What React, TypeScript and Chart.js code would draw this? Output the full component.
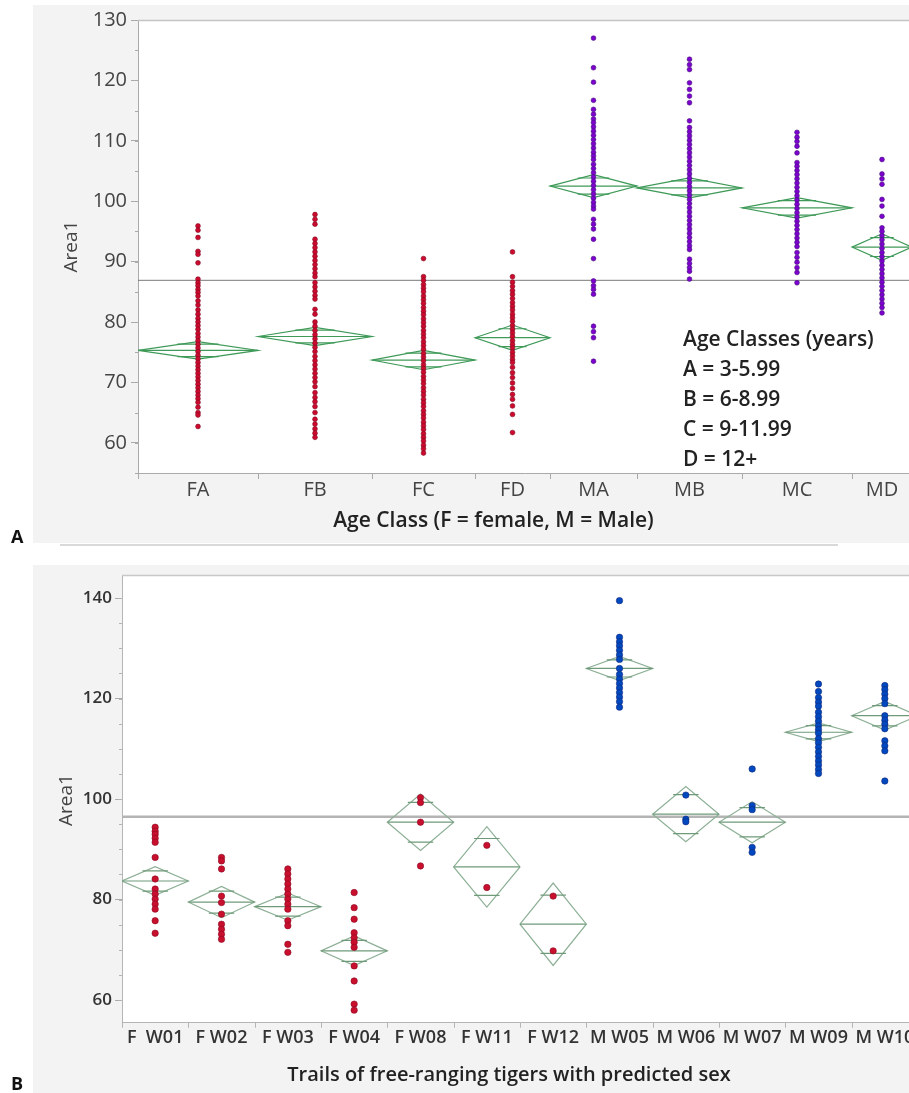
import { useEffect, useRef } from 'react';
import { Chart, registerables } from 'chart.js';

Chart.register(...registerables);

// ---------------- Panel A data ----------------
const ageClasses = ['FA', 'FB', 'FC', 'FD', 'MA', 'MB', 'MC', 'MD'];
const ageClassSex = ['F', 'F', 'F', 'F', 'M', 'M', 'M', 'M'];
// relative group sizes (JMP proportional x axis)
const ageClassN = [120, 114, 103, 75, 87, 105, 110, 60];
const ageMeans = [75.3, 77.6, 73.7, 77.4, 102.5, 102.2, 98.9, 92.4];
const ageCI = [1.45, 1.5, 1.6, 2.1, 1.9, 1.65, 1.7, 2.2];
const ageGrandMean = 86.9;
const ageYTicks = [60, 70, 80, 90, 100, 110, 120, 130];
const ageLegend = ['Age Classes (years)', 'A = 3-5.99', 'B = 6-8.99', 'C = 9-11.99', 'D = 12+'];

const areaFA = [95.9, 95.2, 94.0, 91.7, 91.2, 89.8, 87.1, 86.5, 86.0, 85.4, 84.9, 84.3, 83.5, 82.8, 82.0, 81.3, 80.6, 80.0, 79.4, 78.8, 78.1, 77.5, 76.9, 76.3, 75.7, 75.1, 74.5, 73.9, 73.3, 72.7, 72.1, 71.5, 70.9, 70.3, 69.7, 69.1, 68.5, 67.9, 67.3, 66.7, 65.9, 65.0, 64.6, 62.7];
const areaFB = [97.8, 97.0, 96.2, 93.7, 93.0, 92.3, 91.6, 90.9, 90.2, 89.5, 88.8, 88.1, 87.5, 86.5, 85.8, 85.1, 84.4, 83.8, 82.1, 81.3, 80.0, 79.3, 78.6, 77.9, 77.2, 76.5, 75.8, 75.1, 74.3, 73.6, 72.9, 72.2, 71.5, 70.8, 70.1, 69.3, 68.3, 67.5, 66.8, 66.0, 65.0, 63.9, 63.1, 62.3, 61.6, 60.9];
const areaFC = [90.5, 87.5, 86.9, 86.2, 85.6, 85.0, 84.3, 83.7, 83.1, 82.4, 81.8, 81.2, 80.5, 79.9, 79.3, 78.6, 78.0, 77.4, 76.7, 76.1, 75.5, 74.8, 74.2, 73.6, 72.9, 72.3, 71.7, 71.0, 70.4, 69.8, 69.1, 68.5, 67.9, 67.2, 66.6, 66.0, 65.3, 64.7, 64.1, 63.4, 62.8, 62.2, 61.5, 60.9, 60.3, 59.6, 59.0, 58.3];
const areaFD = [91.6, 87.5, 86.6, 85.9, 85.2, 84.6, 83.9, 83.2, 82.6, 82.0, 81.3, 80.7, 80.1, 79.4, 78.8, 78.2, 77.6, 76.9, 76.3, 75.7, 75.0, 74.4, 73.8, 73.3, 72.5, 71.6, 70.8, 69.9, 69.0, 68.0, 67.2, 66.1, 64.7, 61.7];
const areaMA = [127.0, 122.1, 119.7, 116.7, 115.2, 114.4, 113.6, 113.0, 112.3, 111.6, 110.9, 110.2, 109.5, 108.8, 108.1, 107.5, 106.9, 106.1, 105.4, 104.7, 104.0, 103.3, 102.6, 101.9, 101.2, 100.5, 99.8, 99.2, 98.7, 97.0, 96.2, 95.4, 93.7, 90.5, 86.8, 86.0, 85.4, 84.6, 79.3, 78.4, 77.4, 73.5];
const areaMB = [123.5, 122.6, 121.8, 119.6, 118.5, 117.4, 116.3, 113.3, 112.2, 111.5, 110.8, 110.1, 109.4, 108.7, 108.0, 107.3, 106.6, 105.9, 105.2, 104.5, 103.8, 103.1, 102.4, 101.7, 101.0, 100.3, 99.6, 98.9, 98.2, 97.5, 96.8, 96.1, 95.4, 94.7, 94.0, 93.3, 92.6, 92.0, 90.4, 89.7, 89.0, 88.4, 87.1];
const areaMC = [111.4, 110.6, 109.9, 109.1, 108.0, 106.4, 105.8, 105.1, 104.4, 103.7, 103.0, 102.3, 101.6, 100.9, 100.2, 99.5, 98.8, 98.1, 97.4, 96.7, 96.0, 95.3, 94.6, 93.9, 93.2, 92.5, 91.5, 90.7, 89.9, 89.0, 88.2, 86.5];
const areaMD = [106.9, 104.5, 103.7, 102.8, 100.3, 99.2, 97.5, 95.6, 95.0, 94.3, 93.6, 92.9, 92.2, 91.5, 90.8, 90.1, 89.4, 88.7, 88.0, 87.3, 86.6, 85.9, 85.2, 84.5, 83.8, 83.1, 82.4, 81.5];
const ageValues = [areaFA, areaFB, areaFC, areaFD, areaMA, areaMB, areaMC, areaMD];

// ---------------- Panel B data ----------------
const trails = ['F  W01', 'F W02', 'F W03', 'F W04', 'F W08', 'F W11', 'F W12', 'M W05', 'M W06', 'M W07', 'M W09', 'M W10'];
const trailSex = ['F', 'F', 'F', 'F', 'F', 'F', 'F', 'M', 'M', 'M', 'M', 'M'];
const trailMeans = [83.7, 79.5, 78.6, 69.8, 95.4, 86.5, 75.1, 126.0, 97.0, 95.4, 113.3, 116.6];
const trailCI = [2.85, 3.1, 2.7, 2.95, 5.6, 8.0, 8.2, 2.4, 5.5, 4.1, 1.85, 2.85];
const trailGrandMean = 96.5;
const trailYTicks = [60, 80, 100, 120, 140];

const trailW01 = [94.4, 93.6, 93.0, 92.2, 91.4, 88.4, 84.1, 82.1, 81.1, 80.1, 79.1, 78.1, 75.8, 73.3];
const trailW02 = [88.4, 87.7, 86.1, 80.7, 79.4, 77.1, 75.1, 74.1, 73.1, 72.1];
const trailW03 = [86.1, 85.1, 84.1, 83.1, 82.1, 81.1, 80.1, 79.1, 78.1, 75.8, 74.8, 71.1, 69.5];
const trailW04 = [81.4, 78.4, 76.1, 73.4, 72.4, 71.5, 70.5, 66.8, 63.8, 59.2, 58.0];
const trailW08 = [100.3, 99.3, 95.4, 86.7];
const trailW11 = [90.8, 82.4];
const trailW12 = [80.7, 69.8];
const trailW05 = [139.5, 132.2, 131.3, 130.5, 129.6, 128.7, 127.8, 126.0, 124.8, 123.9, 123.0, 122.1, 121.2, 120.3, 119.4, 118.3];
const trailW06 = [100.8, 96.0, 95.5];
const trailW07 = [106.0, 98.7, 97.9, 90.4, 89.4];
const trailW09 = [122.9, 121.4, 120.2, 119.3, 118.5, 117.3, 116.4, 115.5, 114.6, 113.8, 113.1, 112.0, 111.2, 110.3, 109.4, 108.5, 107.6, 106.8, 105.9, 105.1];
const trailW10 = [122.6, 121.8, 120.9, 120.0, 119.0, 116.6, 115.7, 114.9, 114.0, 111.6, 110.6, 109.6, 103.6];
const trailValues = [trailW01, trailW02, trailW03, trailW04, trailW08, trailW11, trailW12, trailW05, trailW06, trailW07, trailW09, trailW10];

const FONT = "'Open Sans', 'Noto Sans', sans-serif";

type TextItem = { t: string; x: number; y: number; font: string; color: string; align?: CanvasTextAlign; rot?: number };

type PanelCfg = {
  lefts: number[];
  rights: number[];
  centers: number[];
  means: number[];
  ci: number[];
  grandMean: number;
  grandColor: string;
  grandWidth: number;
  diamondColor: string;
  innerColor: string;
  minorStep: number;
  minorLen: number;
  boundaryLen: number;
  frameColor: string;
  axisColor: string;
  texts: TextItem[];
};

function panelPlugin(cfg: PanelCfg) {
  return {
    id: 'jmpPanel',
    beforeDraw(chart: any) {
      const { ctx, chartArea: a } = chart;
      ctx.save();
      ctx.fillStyle = '#ffffff';
      ctx.fillRect(a.left, a.top, a.right - a.left, a.bottom - a.top);
      ctx.restore();
    },
    beforeDatasetsDraw(chart: any) {
      const { ctx, chartArea: a, scales } = chart;
      const x = scales.x;
      const y = scales.y;
      ctx.save();
      ctx.beginPath();
      ctx.rect(a.left, a.top, a.right - a.left, a.bottom - a.top);
      ctx.clip();
      // grand mean
      const gy = y.getPixelForValue(cfg.grandMean);
      ctx.strokeStyle = cfg.grandColor;
      ctx.lineWidth = cfg.grandWidth;
      ctx.beginPath();
      ctx.moveTo(a.left, gy);
      ctx.lineTo(a.right, gy);
      ctx.stroke();
      // means diamonds
      ctx.lineWidth = 1.2;
      cfg.means.forEach((m, i) => {
        const c = cfg.ci[i];
        const xl = x.getPixelForValue(cfg.lefts[i]);
        const xr = x.getPixelForValue(cfg.rights[i]);
        const xc = x.getPixelForValue(cfg.centers[i]);
        const ym = y.getPixelForValue(m);
        const yt = y.getPixelForValue(m + c);
        const yb = y.getPixelForValue(m - c);
        ctx.strokeStyle = cfg.diamondColor;
        ctx.beginPath();
        ctx.moveTo(xl, ym);
        ctx.lineTo(xc, yt);
        ctx.lineTo(xr, ym);
        ctx.lineTo(xc, yb);
        ctx.closePath();
        ctx.stroke();
        ctx.strokeStyle = cfg.innerColor;
        ctx.beginPath();
        ctx.moveTo(xl, ym);
        ctx.lineTo(xr, ym);
        const d = c / Math.SQRT2;
        const hw = ((xr - xl) / 2) * (1 - 1 / Math.SQRT2) + 3;
        const yo1 = y.getPixelForValue(m + d);
        const yo2 = y.getPixelForValue(m - d);
        ctx.moveTo(xc - hw, yo1);
        ctx.lineTo(xc + hw, yo1);
        ctx.moveTo(xc - hw, yo2);
        ctx.lineTo(xc + hw, yo2);
        ctx.stroke();
      });
      ctx.restore();
    },
    afterDraw(chart: any) {
      const { ctx, chartArea: a, scales } = chart;
      const x = scales.x;
      const y = scales.y;
      ctx.save();
      // top frame
      ctx.strokeStyle = cfg.frameColor;
      ctx.lineWidth = 1.5;
      ctx.beginPath();
      ctx.moveTo(a.left, a.top + 0.5);
      ctx.lineTo(a.right, a.top + 0.5);
      ctx.stroke();
      // category boundary ticks
      ctx.strokeStyle = cfg.axisColor;
      ctx.lineWidth = 1;
      ctx.beginPath();
      const bounds = [cfg.lefts[0], ...cfg.rights];
      bounds.forEach((b) => {
        const px = Math.round(x.getPixelForValue(b)) + 0.5;
        ctx.moveTo(px, a.bottom);
        ctx.lineTo(px, a.bottom + cfg.boundaryLen);
      });
      // minor y ticks
      const start = Math.ceil(y.min / cfg.minorStep) * cfg.minorStep;
      for (let v = start; v <= y.max; v += cfg.minorStep) {
        const py = Math.round(y.getPixelForValue(v)) + 0.5;
        ctx.moveTo(a.left, py);
        ctx.lineTo(a.left - cfg.minorLen, py);
      }
      ctx.stroke();
      // texts
      cfg.texts.forEach((t) => {
        ctx.save();
        ctx.font = t.font;
        ctx.fillStyle = t.color;
        ctx.textAlign = t.align || 'center';
        ctx.textBaseline = 'middle';
        ctx.translate(t.x, t.y);
        if (t.rot) ctx.rotate((t.rot * Math.PI) / 180);
        ctx.fillText(t.t, 0, 0);
        ctx.restore();
      });
      ctx.restore();
    },
  };
}

function pointsFor(values: number[][], centers: number[], sex: string[], which: string) {
  const out: { x: number; y: number }[] = [];
  values.forEach((arr, i) => {
    if (sex[i] !== which) return;
    arr.forEach((v) => out.push({ x: centers[i], y: v }));
  });
  return out;
}

export default function App() {
  const refA = useRef<HTMLCanvasElement | null>(null);
  const refB = useRef<HTMLCanvasElement | null>(null);

  useEffect(() => {
    document.body.style.margin = '0';

    // ---------- Panel A ----------
    const lefts: number[] = [];
    const rights: number[] = [];
    const centers: number[] = [];
    let acc = 0;
    ageClassN.forEach((n) => {
      lefts.push(acc);
      centers.push(acc + n / 2);
      acc += n;
      rights.push(acc);
    });
    const total = acc;

    const legendTexts: TextItem[] = ageLegend.map((t, i) => ({
      t,
      x: 683,
      y: 340 + i * 30,
      font: `600 21px ${FONT}`,
      color: '#222',
      align: 'left',
    }));

    const chartA = new Chart(refA.current as HTMLCanvasElement, {
      type: 'scatter',
      data: {
        datasets: [
          {
            data: pointsFor(ageValues, centers, ageClassSex, 'F'),
            backgroundColor: 'rgb(205,10,45)',
            borderColor: 'rgb(130,10,35)',
            borderWidth: 0.6,
            pointRadius: 2.4,
          },
          {
            data: pointsFor(ageValues, centers, ageClassSex, 'M'),
            backgroundColor: 'rgb(125,0,205)',
            borderColor: 'rgb(70,20,130)',
            borderWidth: 0.6,
            pointRadius: 2.4,
          },
        ],
      },
      options: {
        animation: false,
        responsive: false,
        devicePixelRatio: 1,
        layout: { padding: { left: 0, top: 20, right: 18, bottom: 0 } },
        plugins: { legend: { display: false }, tooltip: { enabled: false } },
        scales: {
          x: {
            type: 'linear',
            min: 0,
            max: total,
            afterBuildTicks: (s: any) => {
              s.ticks = centers.map((v) => ({ value: v }));
            },
            ticks: {
              autoSkip: false,
              maxRotation: 0,
              padding: 5,
              color: '#444',
              font: { family: FONT, size: 20 },
              callback: (_v: any, i: number) => ageClasses[i],
            },
            grid: { drawOnChartArea: false, drawTicks: false },
            border: { color: '#aaa' },
            afterFit: (s: any) => {
              s.height = 72;
            },
          },
          y: {
            min: 55,
            max: 130,
            afterBuildTicks: (s: any) => {
              s.ticks = ageYTicks.map((v) => ({ value: v }));
            },
            ticks: { padding: 4, color: '#444', font: { family: FONT, size: 20 } },
            grid: { drawOnChartArea: false, tickLength: 7, color: '#aaa' },
            border: { color: '#aaa' },
            afterFit: (s: any) => {
              s.width = 138;
            },
          },
        },
      },
      plugins: [
        panelPlugin({
          lefts,
          rights,
          centers,
          means: ageMeans,
          ci: ageCI,
          grandMean: ageGrandMean,
          grandColor: '#7a7a7a',
          grandWidth: 1,
          diamondColor: '#3f9a58',
          innerColor: '#3f9a58',
          minorStep: 5,
          minorLen: 3,
          boundaryLen: 6,
          frameColor: '#c4c4c4',
          axisColor: '#aaa',
          texts: [
            { t: 'Area1', x: 72, y: 246.5, rot: -90, font: `400 19px ${FONT}`, color: '#444' },
            { t: 'Age Class (F = female, M = Male)', x: 493.5, y: 521.5, font: `600 21px ${FONT}`, color: '#222' },
            { t: 'A', x: 11, y: 538, align: 'left', font: `700 18px ${FONT}`, color: '#111' },
            ...legendTexts,
          ],
        }) as any,
      ],
    } as any);

    // ---------- Panel B ----------
    const cB = trails.map((_, i) => i + 1);
    const lB = cB.map((c) => c - 0.5);
    const rB = cB.map((c) => c + 0.5);

    const chartB = new Chart(refB.current as HTMLCanvasElement, {
      type: 'scatter',
      data: {
        datasets: [
          {
            data: pointsFor(trailValues, cB, trailSex, 'F'),
            backgroundColor: 'rgb(200,15,45)',
            borderColor: 'rgb(140,10,35)',
            borderWidth: 0.6,
            pointRadius: 3.2,
          },
          {
            data: pointsFor(trailValues, cB, trailSex, 'M'),
            backgroundColor: 'rgb(0,72,192)',
            borderColor: 'rgb(20,40,120)',
            borderWidth: 0.6,
            pointRadius: 3.2,
          },
        ],
      },
      options: {
        animation: false,
        responsive: false,
        devicePixelRatio: 1,
        layout: { padding: { left: 0, top: 25, right: 17, bottom: 0 } },
        plugins: { legend: { display: false }, tooltip: { enabled: false } },
        scales: {
          x: {
            type: 'linear',
            min: 0.5,
            max: trails.length + 0.5,
            afterBuildTicks: (s: any) => {
              s.ticks = cB.map((v) => ({ value: v }));
            },
            ticks: {
              autoSkip: false,
              maxRotation: 0,
              padding: 4,
              color: '#333',
              font: { family: FONT, size: 18, weight: '600' },
              callback: (_v: any, i: number) => trails[i],
            },
            grid: { drawOnChartArea: false, drawTicks: false },
            border: { color: '#b5b5b5' },
            afterFit: (s: any) => {
              s.height = 70.3;
            },
          },
          y: {
            min: 55.5,
            max: 144.6,
            afterBuildTicks: (s: any) => {
              s.ticks = trailYTicks.map((v) => ({ value: v }));
            },
            ticks: { padding: 3, color: '#333', font: { family: FONT, size: 17, weight: '600' } },
            grid: { drawOnChartArea: false, tickLength: 7, color: '#aaa' },
            border: { color: '#b5b5b5' },
            afterFit: (s: any) => {
              s.width = 122;
            },
          },
        },
      },
      plugins: [
        panelPlugin({
          lefts: lB,
          rights: rB,
          centers: cB,
          means: trailMeans,
          ci: trailCI,
          grandMean: trailGrandMean,
          grandColor: '#b4b4b4',
          grandWidth: 2.5,
          diamondColor: '#8db096',
          innerColor: '#6f9a7a',
          minorStep: 5,
          minorLen: 3,
          boundaryLen: 5,
          frameColor: '#c8c8c8',
          axisColor: '#b5b5b5',
          texts: [
            { t: 'Area1', x: 67, y: 250, rot: -90, font: `400 19px ${FONT}`, color: '#444' },
            { t: 'Trails of free-ranging tigers with predicted sex', x: 509, y: 525, font: `600 20px ${FONT}`, color: '#222' },
            { t: 'B', x: 11, y: 535, align: 'left', font: `700 18px ${FONT}`, color: '#111' },
          ],
        }) as any,
      ],
    } as any);

    return () => {
      chartA.destroy();
      chartB.destroy();
    };
  }, []);

  return (
    <div style={{ position: 'relative', width: 909, height: 1093, overflow: 'hidden', background: '#fff' }}>
      <div style={{ position: 'absolute', left: 33, top: 5, right: 0, height: 538, background: '#f3f3f3' }} />
      <div style={{ position: 'absolute', left: 60, top: 544, width: 778, height: 2, background: '#d9d9d9' }} />
      <div style={{ position: 'absolute', left: 33, top: 565, right: 0, bottom: 0, background: '#f3f3f3' }} />
      <canvas ref={refA} width={930} height={545} style={{ position: 'absolute', left: 0, top: 0 }} />
      <canvas ref={refB} width={935} height={543} style={{ position: 'absolute', left: 0, top: 550 }} />
    </div>
  );
}
